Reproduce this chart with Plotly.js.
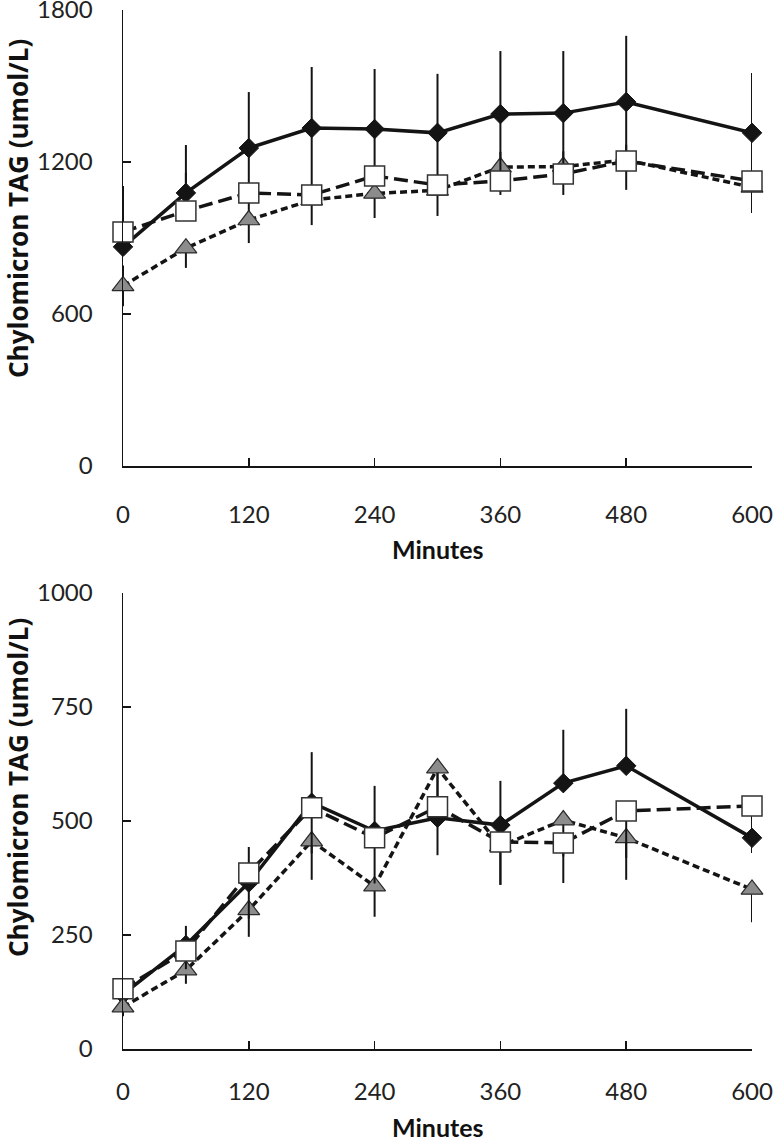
<!DOCTYPE html>
<html>
<head>
<meta charset="utf-8">
<script src="https://cdn.plot.ly/plotly-3.0.1.min.js"></script>
<style>html,body{margin:0;padding:0;background:#fff;}#chart{width:773px;height:1141px;}</style>
</head>
<body>
<div id="chart"></div>
<script>
// ---- data ----
const minutes = [0, 60, 120, 180, 240, 300, 360, 420, 480, 600];
const xTicks = [0, 120, 240, 360, 480, 600];

// Panel A
const diamondA = [865, 1078, 1255, 1334, 1330, 1315, 1389, 1393, 1437, 1315];
const diamondAPlus = [240, 189, 221, 241, 237, 233, 249, 245, 261, 236];
const squareA = [924, 1007, 1078, 1070, 1145, 1109, 1125, 1153, 1204, 1125];
const squareAPlus = [150, 150, 200, 240, 200, 200, 240, 230, 230, 200];
const triangleA = [711, 860, 971, 1050, 1076, 1088, 1180, 1182, 1208, 1100];
const triangleAPlus = [80, 30, 95, 60, 60, 60, 60, 60, 60, 60];
const triangleAMinus = [80, 78, 91, 99, 97, 101, 110, 112, 118, 101];

// Panel B
const diamondB = [120, 228, 365, 540, 478, 507, 491, 583, 621, 463];
const diamondBPlus = [30, 42, 78, 111, 99, 100, 97, 117, 125, 70];
const squareB = [132, 215, 386, 529, 463, 531, 454, 452, 522, 533];
const squareBMinus = [20, 40, 100, 100, 100, 106, 94, 88, 103, 103];
const triangleB = [92, 173, 305, 456, 357, 616, 445, 502, 463, 350];
const triangleBMinus = [20, 30, 59, 85, 67, 85, 85, 80, 92, 72];

const yTitle = 'Chylomicron TAG (umol/L)';
const xTitle = 'Minutes';

// ---- styles ----
const INK = '#141414';
const FONT = 'Lato, "Open Sans", sans-serif';
const YFONT = '"Open Sans", Lato, sans-serif';

function errBar(plus, minus) {
  return {
    type: 'data', symmetric: false,
    array: plus, arrayminus: minus,
    color: INK, thickness: 2, width: 0, visible: true
  };
}
function zeros(n) { return new Array(n).fill(0); }

function diamondTrace(y, plus, xa, ya) {
  return {
    x: minutes, y: y, xaxis: xa, yaxis: ya, type: 'scatter', mode: 'lines+markers',
    line: {color: INK, width: 3.5},
    marker: {symbol: 'diamond', size: 15, color: INK, line: {color: INK, width: 1}},
    error_y: errBar(plus, zeros(y.length)),
    cliponaxis: false, showlegend: false, hoverinfo: 'x+y'
  };
}
function triangleTrace(y, plus, minus, xa, ya) {
  return {
    x: minutes, y: y, xaxis: xa, yaxis: ya, type: 'scatter', mode: 'lines+markers',
    line: {color: INK, width: 3.5, dash: '7px,4px'},
    marker: {symbol: 'triangle-up', size: 19, color: '#8c8c8c', line: {color: '#2a2a2a', width: 1.2}},
    error_y: errBar(plus, minus),
    cliponaxis: false, showlegend: false, hoverinfo: 'x+y'
  };
}
function squareTrace(y, plus, minus, xa, ya) {
  return {
    x: minutes, y: y, xaxis: xa, yaxis: ya, type: 'scatter', mode: 'lines+markers',
    line: {color: INK, width: 3.5, dash: '14px,6px'},
    marker: {symbol: 'square', size: 20, color: '#ffffff', line: {color: '#333333', width: 1.5}},
    error_y: errBar(plus, minus),
    cliponaxis: false, showlegend: false, hoverinfo: 'x+y'
  };
}

const traces = [
  diamondTrace(diamondA, diamondAPlus, 'x', 'y'),
  triangleTrace(triangleA, triangleAPlus, triangleAMinus, 'x', 'y'),
  squareTrace(squareA, squareAPlus, zeros(squareA.length), 'x', 'y'),
  diamondTrace(diamondB, diamondBPlus, 'x2', 'y2'),
  triangleTrace(triangleB, zeros(triangleB.length), triangleBMinus, 'x2', 'y2'),
  squareTrace(squareB, zeros(squareB.length), squareBMinus, 'x2', 'y2')
];

const H = 1141, T = 10, B = 92;
const plotH = H - T - B;
function py(px) { return (H - B - px) / plotH; }

function xCommon(standoff) {
  return {
    range: [0, 600], tickmode: 'array', tickvals: xTicks, ticktext: xTicks.map(String),
    showline: true, linecolor: INK, linewidth: 1.5,
    ticks: 'inside', ticklen: 8, tickwidth: 1.5, tickcolor: INK,
    showgrid: false, zeroline: false,
    tickfont: {family: FONT, size: 24, color: '#222'},
    ticklabelstandoff: standoff, ticklabeloverflow: 'allow', fixedrange: true
  };
}
function yCommon(max, step) {
  return {
    range: [0, max], tick0: 0, dtick: step,
    showline: true, linecolor: INK, linewidth: 1.5,
    ticks: 'inside', ticklen: 8, tickwidth: 1.5, tickcolor: INK,
    showgrid: false, zeroline: false,
    tickfont: {family: FONT, size: 24, color: '#222'},
    ticklabelstandoff: 24, ticklabeloverflow: 'allow', fixedrange: true
  };
}

const layout = {
  width: 773, height: H,
  margin: {l: 123, r: 21, t: T, b: B},
  paper_bgcolor: '#fff', plot_bgcolor: '#fff',
  showlegend: false,
  xaxis: Object.assign({}, xCommon(27), {domain: [0, 1], anchor: 'y'}),
  yaxis: Object.assign({}, yCommon(1800, 600), {domain: [py(466), 1], anchor: 'x'}),
  xaxis2: Object.assign({}, xCommon(21), {domain: [0, 1], anchor: 'y2'}),
  yaxis2: Object.assign({}, yCommon(1000, 250), {domain: [0, py(593)], anchor: 'x2'}),
  annotations: [
    {text: '<b>' + yTitle + '</b>', xref: 'paper', yref: 'paper', x: (18 - 123) / 629, y: py(209),
     xanchor: 'center', yanchor: 'middle', textangle: -90, showarrow: false,
     font: {family: YFONT, size: 26, color: '#111'}},
    {text: '<b>' + yTitle + '</b>', xref: 'paper', yref: 'paper', x: (18 - 123) / 629, y: py(788),
     xanchor: 'center', yanchor: 'middle', textangle: -90, showarrow: false,
     font: {family: YFONT, size: 26, color: '#111'}},
    {text: '<b>' + xTitle + '</b>', xref: 'paper', yref: 'paper', x: 0.5, y: py(549),
     xanchor: 'center', yanchor: 'middle', showarrow: false,
     font: {family: FONT, size: 25, color: '#111'}},
    {text: '<b>' + xTitle + '</b>', xref: 'paper', yref: 'paper', x: 0.5, y: py(1127),
     xanchor: 'center', yanchor: 'middle', showarrow: false,
     font: {family: FONT, size: 25, color: '#111'}}
  ]
};

Plotly.newPlot('chart', traces, layout, {displayModeBar: false, staticPlot: true});
</script>
</body>
</html>
